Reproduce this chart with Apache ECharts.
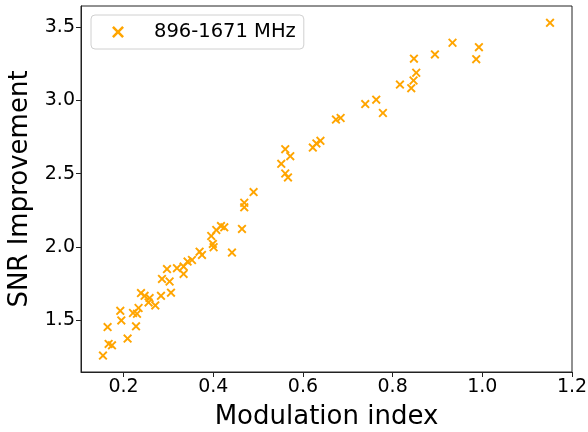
<!DOCTYPE html>
<html>
<head>
<meta charset="utf-8">
<script src="https://cdn.jsdelivr.net/npm/echarts@6/dist/echarts.min.js"></script>
<style>html,body{margin:0;padding:0;background:#fff;}#c{width:588px;height:432px;}</style>
</head>
<body>
<div id="c"></div>
<script>
var seriesName = '896-1671 MHz';
var modIndex = [0.154,0.1666,0.1741,0.2089,0.1643,0.2277,0.1949,0.1926,0.221,0.2299,0.2334,0.2388,0.2468,0.258,0.2557,0.2707,0.2834,0.3057,0.2856,0.3026,0.2968,0.319,0.3338,0.3338,0.3427,0.3525,0.3695,0.3748,0.3955,0.399,0.4007,0.4067,0.4172,0.4245,0.4417,0.464,0.4691,0.4691,0.4899,0.5516,0.5605,0.5666,0.5605,0.5717,0.622,0.630,0.639,0.6736,0.684,0.7389,0.7634,0.7783,0.8163,0.8415,0.8466,0.8526,0.8475,0.8943,0.9335,0.9864,0.9924,1.151];
var snrImprovement = [1.257,1.337,1.327,1.373,1.452,1.457,1.497,1.563,1.548,1.543,1.582,1.684,1.665,1.650,1.620,1.600,1.665,1.687,1.781,1.763,1.848,1.854,1.865,1.815,1.899,1.910,1.967,1.945,2.074,2.020,1.997,2.115,2.142,2.133,1.961,2.122,2.270,2.301,2.374,2.567,2.501,2.474,2.667,2.619,2.678,2.706,2.724,2.869,2.880,2.975,3.005,2.914,3.108,3.084,3.136,3.189,3.285,3.314,3.394,3.282,3.364,3.530];
var xTicks = [0.2,0.4,0.6,0.8,1.0,1.2];
var yTicks = [1.5,2.0,2.5,3.0,3.5];

var points = modIndex.map(function(v,i){return [v, snrImprovement[i]];});
var cross = 'path://M0,1.5L1.5,0L5,3.5L8.5,0L10,1.5L6.5,5L10,8.5L8.5,10L5,6.5L1.5,10L0,8.5L3.5,5Z';
var font = 'DejaVu Sans';
var chart = echarts.init(document.getElementById('c'), null, {renderer:'canvas'});
chart.setOption({
  animation: false,
  backgroundColor: '#fff',
  grid: {left: 81, right: 16, top: 6, bottom: 60, outerBoundsMode: 'none', containLabel: false, show: true, borderColor: '#222', borderWidth: 1, backgroundColor: 'transparent'},
  legend: {
    left: 91, top: 15,
    padding: [7, 8, 7, 21],
    borderColor: '#d0d0d0', borderWidth: 1, borderRadius: 4,
    backgroundColor: '#fff',
    itemWidth: 12, itemHeight: 12,
    textStyle: {fontFamily: font, fontSize: 19.5, color: '#000', padding: [0,0,0,25]},
    data: [{name: seriesName, icon: cross}]
  },
  xAxis: {
    type: 'value', min: 0.105, max: 1.2,
    name: 'Modulation index', nameLocation: 'middle', nameGap: 32,
    nameTextStyle: {fontFamily: font, fontSize: 26, color: '#000'},
    axisLine: {show: true, onZero: false, lineStyle: {color: '#222', width: 1}},
    axisTick: {show: true, length: 5, inside: false, customValues: xTicks, lineStyle: {color: '#222'}},
    axisLabel: {customValues: xTicks, fontFamily: font, fontSize: 19, color: '#000', margin: 6, formatter: function(v){return v.toFixed(1);}},
    splitLine: {show: false}
  },
  yAxis: {
    type: 'value', min: 1.145, max: 3.645,
    name: 'SNR Improvement', nameLocation: 'middle', nameGap: 48,
    nameTextStyle: {fontFamily: font, fontSize: 26, color: '#000'},
    axisLine: {show: true, onZero: false, lineStyle: {color: '#222', width: 1}},
    axisTick: {show: true, length: 5, inside: false, customValues: yTicks, lineStyle: {color: '#222'}},
    axisLabel: {customValues: yTicks, fontFamily: font, fontSize: 19, color: '#000', margin: 6, formatter: function(v){return v.toFixed(1);}},
    splitLine: {show: false}
  },
  series: [{
    name: seriesName,
    type: 'scatter',
    data: points,
    symbol: cross,
    symbolSize: 9,
    itemStyle: {color: '#FFA500', opacity: 1}
  }]
});
</script>
</body>
</html>
